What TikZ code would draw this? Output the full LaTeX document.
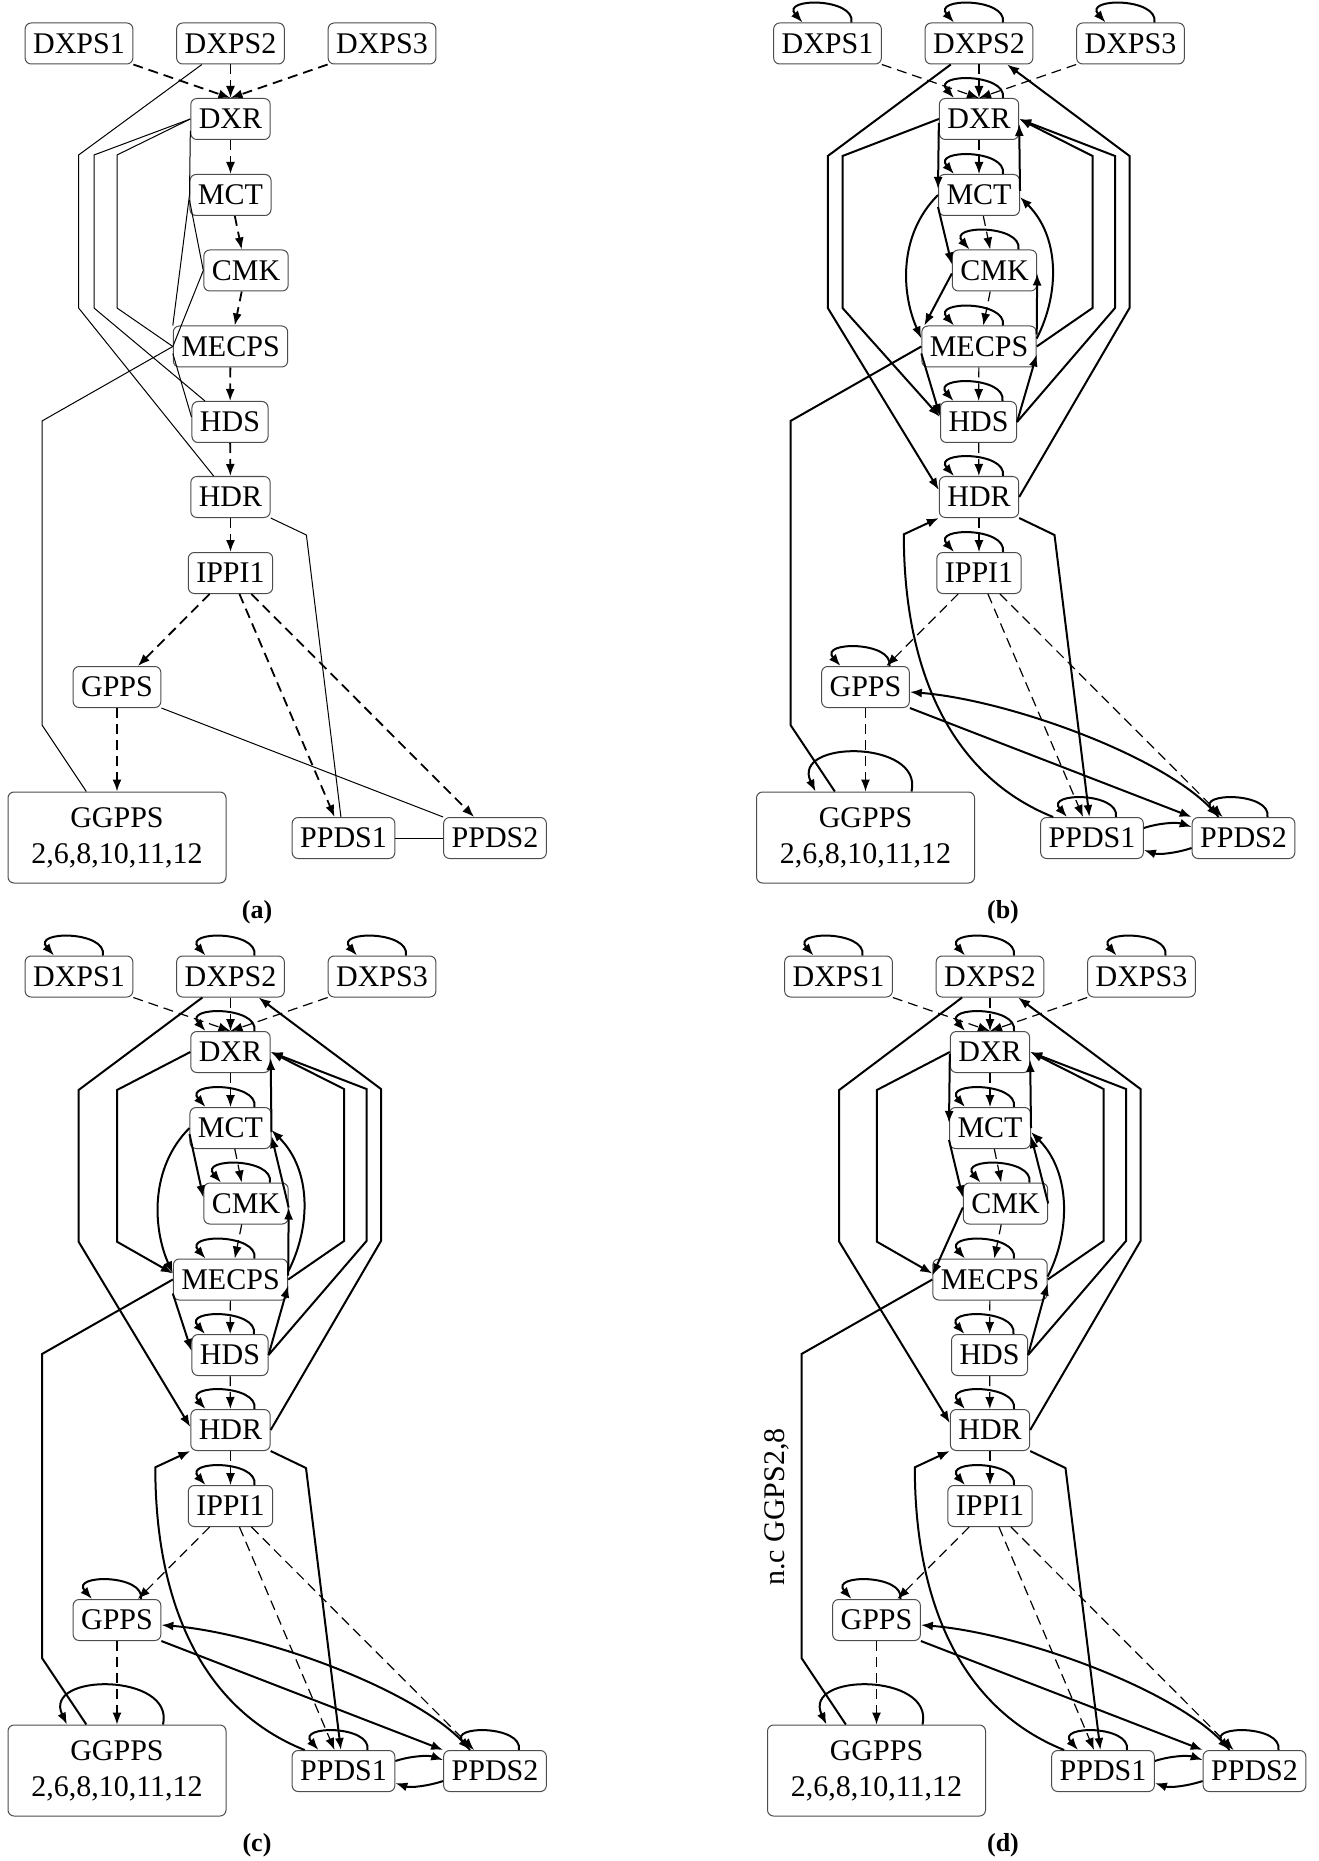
\documentclass[tikz,border=0pt]{standalone}
\usepackage{fontspec}
\setmainfont{Liberation Serif}
\usetikzlibrary{arrows.meta}

\tikzset{
  nbox/.style={draw=black!70, line width=0.5pt, rounded corners=3pt, inner xsep=4pt, inner ysep=0pt, minimum height=20.5pt, font=\fontsize{15}{18}\selectfont},
  bigbox/.style={nbox, minimum width=109pt, minimum height=45.5pt, align=center},
  arrtip/.style={-{Latex[length=6pt,width=4.5pt]}},
  dshA/.style={line width=0.9pt, dash pattern=on 5pt off 3pt, arrtip},
  dshB/.style={line width=0.6pt, dash pattern=on 5pt off 3pt, arrtip},
  thinl/.style={line width=0.5pt},
  arr/.style={line width=1pt, arrtip},
  thk/.style={line width=1pt},
  captxt/.style={font=\bfseries\fontsize{13}{15}\selectfont},
  lbl/.style={font=\fontsize{15}{18}\selectfont},
}

\newcommand{\placenodes}[1]{%
  \node[nbox] (#1DXPS1) at (79,43.5) {DXPS1};
  \node[nbox] (#1DXPS2) at (230.5,43.5) {DXPS2};
  \node[nbox] (#1DXPS3) at (382,43.5) {DXPS3};
  \node[nbox] (#1DXR) at (230.5,119) {DXR};
  \node[nbox] (#1MCT) at (230.5,195) {MCT};
  \node[nbox] (#1CMK) at (246,270.5) {CMK};
  \node[nbox] (#1MECPS) at (230.5,346.5) {MECPS};
  \node[nbox] (#1HDS) at (230,422) {HDS};
  \node[nbox] (#1HDR) at (230.5,497) {HDR};
  \node[nbox] (#1IPPI1) at (230.5,573) {IPPI1};
  \node[nbox] (#1GPPS) at (117,687) {GPPS};
  \node[bigbox] (#1GGPPS) at (117,837.5) {GGPPS\\2,6,8,10,11,12};
  \node[nbox] (#1PPDS1) at (343.5,838) {PPDS1};
  \node[nbox] (#1PPDS2) at (495,838) {PPDS2};
}

\newcommand{\backbone}[2]{%
  \draw[#2] (#1DXPS1.south east) -- (#1DXR.north);
  \draw[#2] (#1DXPS2) -- (#1DXR);
  \draw[#2] (#1DXPS3.south west) -- (#1DXR.north);
  \draw[#2] (#1DXR) -- (#1MCT);
  \draw[#2] (#1MCT) -- (#1CMK);
  \draw[#2] (#1CMK) -- (#1MECPS);
  \draw[#2] (#1MECPS) -- (#1HDS);
  \draw[#2] (#1HDS) -- (#1HDR);
  \draw[#2] (#1HDR) -- (#1IPPI1);
  \draw[#2] (#1IPPI1) -- (#1GPPS);
  \draw[#2] (#1IPPI1) -- (#1PPDS1);
  \draw[#2] (#1IPPI1) -- (#1PPDS2);
  \draw[#2] (#1GPPS) -- (#1GGPPS);
}

\newcommand{\sloop}[1]{%
  \draw[arr] ([xshift=12pt]#1.north) .. controls +(4,-25) and +(-22,-25) .. ([xshift=-12.5pt]#1.north);
}

\newcommand{\allloops}[1]{%
  \sloop{#1DXPS1}\sloop{#1DXPS2}\sloop{#1DXPS3}\sloop{#1DXR}\sloop{#1MCT}
  \sloop{#1CMK}\sloop{#1MECPS}\sloop{#1HDS}\sloop{#1HDR}\sloop{#1IPPI1}
  \sloop{#1GPPS}\sloop{#1PPDS1}\sloop{#1PPDS2}
  \draw[arr] ([xshift=23pt]#1GGPPS.north) .. controls +(12,-52) and +(-25,-52) .. ([xshift=-25pt]#1GGPPS.north);
}

\newcommand{\bottomdir}[1]{%
  \draw[arr] (#1HDR.south east) -- (306,535) -- (#1PPDS1);
  \draw[arr] ([xshift=6.5pt]#1PPDS1.north west) .. controls +(-100,-40) and +(0,140) .. (155.3,534.3) -- (#1HDR.south west);
  \draw[arr] (#1GPPS.south east) -- (#1PPDS2.north west);
  \draw[arr] ([xshift=-12.5pt]#1PPDS2.north) .. controls +(-45,-58) and +(100,8) .. ([yshift=-2.5pt]#1GPPS.east);
  \draw[arr] ([yshift=5pt]#1PPDS1.east) .. controls +(15,-5) and +(-15,-5) .. ([yshift=5.5pt]#1PPDS2.west);
  \draw[arr] ([yshift=-5pt]#1PPDS2.west) .. controls +(-15,5) and +(15,5) .. ([yshift=-6pt]#1PPDS1.east);
  \draw[thk] (#1MECPS.west) -- (42,421) -- (42,725) -- (#1GGPPS);
}

\newcommand{\rightpolys}[1]{%
  \draw[arr] (#1MECPS.east) -- (344,308) -- (344,156) -- (#1DXR.east);
  \draw[arr] (#1HDS.east) -- (366.5,308) -- (366.5,156) -- (#1DXR.east);
  \draw[arr] (#1HDR.east) -- (381,308) -- (381,156) -- (#1DXPS2);
}

\begin{document}
\begin{tikzpicture}[x=0.5pt, y=-0.5pt]
\useasboundingbox (0,0) rectangle (1318,1861);

% ---------------- panel (a)
\begin{scope}
  \placenodes{a}
  \backbone{a}{dshA}
  \draw[thinl] (aDXPS2) -- (78.6,155) -- (78.6,308) -- (aHDR);
  \draw[thinl] (aDXR.west) -- (94,155) -- (94,308) -- (aHDS);
  \draw[thinl] (aDXR.west) -- (117,155) -- (117,308) -- (aMECPS.west);
  \draw[thinl] (aMECPS.west) -- (42,421) -- (42,725) -- (aGGPPS);
  \draw[thinl] ([yshift=-6pt]aDXR.west) -- (aMCT.west);
  \draw[thinl] (aMCT.west) -- (aMECPS.north west);
  \draw[thinl] ([yshift=-2.5pt]aMCT.west) -- (aCMK.west);
  \draw[thinl] (aCMK.west) -- (aMECPS.west);
  \draw[thinl] ([yshift=-3.5pt]aMECPS.west) -- ([yshift=2.5pt]aHDS.west);
  \draw[thinl] (aHDR.south east) -- (306.4,535) -- (aPPDS1);
  \draw[thinl] (aGPPS.south east) -- (aPPDS2.north west);
  \draw[thinl] (aPPDS1) -- (aPPDS2);
  \node[captxt] (capa) at (257,912) {(a)};
\end{scope}

% ---------------- panel (b)
\begin{scope}[shift={(748.5,0)}]
  \placenodes{b}
  \backbone{b}{dshB}
  \allloops{b}
  \bottomdir{b}
  \rightpolys{b}
  \draw[arr] (bDXPS2) -- (79.3,156) -- (79.3,308) -- ([yshift=3.5pt]bHDR.west);
  \draw[arr] (bDXR.west) -- (94,156) -- (94,308) -- ([yshift=2.5pt]bHDS.west);
  \draw[arr] ([yshift=-2pt]bDXR.west) -- ([yshift=3pt]bMCT.west);
  \draw[arr] ([yshift=-6pt]bMCT.west) -- ([yshift=3pt]bCMK.west);
  \draw[arr] ([yshift=-1.5pt]bCMK.west) -- ([xshift=1.5pt]bMECPS.north west);
  \draw[arr] (bMCT.west) .. controls +(-40,40) and +(-20,-45) .. ([yshift=4pt]bMECPS.west);
  \draw[arr] ([yshift=-3.5pt]bMECPS.west) -- ([yshift=3pt]bHDS.west);
  \draw[arr] ([yshift=2pt]bMCT.east) -- ([yshift=-2.5pt]bDXR.east);
  \draw[arr] ([yshift=6pt]bMECPS.east) -- ([yshift=-1.5pt]bCMK.east);
  \draw[arr] ([yshift=4pt]bMECPS.east) .. controls +(23,-45) and +(40,40) .. ([yshift=-1pt]bMCT.east);
  \draw[arr] (bHDS.east) -- ([yshift=-4pt]bMECPS.east);
  \node[captxt] (capb) at (254.5,912) {(b)};
\end{scope}

% ---------------- panel (c)
\begin{scope}[shift={(0,933)}]
  \placenodes{c}
  \backbone{c}{dshB}
  \allloops{c}
  \bottomdir{c}
  \rightpolys{c}
  \draw[arr] (cDXPS2) -- (78.6,157) -- (78.6,308.7) -- ([yshift=1.5pt]cHDR.west);
  \draw[arr] (cDXR.west) -- (117,157) -- (117,308.7) -- ([yshift=3pt]cMECPS.west);
  \draw[arr] ([yshift=-3pt]cMCT.west) -- ([yshift=3pt]cCMK.west);
  \draw[arr] (cMCT.west) .. controls +(-40,40) and +(-20,-45) .. ([yshift=3pt]cMECPS.west);
  \draw[arr] ([yshift=-7pt]cMECPS.west) -- ([yshift=2pt]cHDS.west);
  \draw[arr] ([yshift=-2pt]cMCT.east) -- ([yshift=-3pt]cDXR.east);
  \draw[arr] ([yshift=-2pt]cCMK.east) -- ([yshift=-4pt]cMCT.east);
  \draw[arr] ([yshift=2pt]cMECPS.east) -- ([yshift=-2pt]cCMK.east);
  \draw[arr] ([yshift=4pt]cMECPS.east) .. controls +(23,-45) and +(40,40) .. ([yshift=-1pt]cMCT.east);
  \draw[arr] (cHDS.east) -- ([yshift=-3pt]cMECPS.east);
  \node[captxt] (capc) at (257,912) {(c)};
\end{scope}

% ---------------- panel (d)
\begin{scope}[shift={(759.5,933)}]
  \placenodes{d}
  \backbone{d}{dshB}
  \allloops{d}
  \bottomdir{d}
  \rightpolys{d}
  \draw[arr] (dDXPS2) -- (79.7,157) -- (79.7,308.7) -- ([yshift=3.5pt]dHDR.west);
  \draw[arr] (dDXR.west) -- (117.4,157) -- (117.4,308.7) -- ([yshift=3pt]dMECPS.west);
  \draw[arr] ([yshift=-1pt]dDXR.west) -- ([yshift=2.5pt]dMCT.west);
  \draw[arr] ([yshift=-6pt]dMCT.west) -- ([yshift=3pt]dCMK.west);
  \draw[arr] ([yshift=-2pt]dCMK.west) -- ([yshift=2pt]dMECPS.west);
  \draw[arr] (dMCT.east) -- ([yshift=-4pt]dDXR.east);
  \draw[arr] (dCMK.east) -- ([yshift=-4pt]dMCT.east);
  \draw[arr] ([yshift=1.5pt]dMECPS.east) .. controls +(23,-45) and +(40,40) .. ([yshift=-2pt]dMCT.east);
  \draw[arr] (dHDS.east) -- ([yshift=-2pt]dMECPS.east);
  \node[lbl, rotate=90] (dlabel) at (17,574) {n.c GGPS2,8};
  \node[captxt] (capd) at (243.5,912) {(d)};
\end{scope}
\end{tikzpicture}
\end{document}
